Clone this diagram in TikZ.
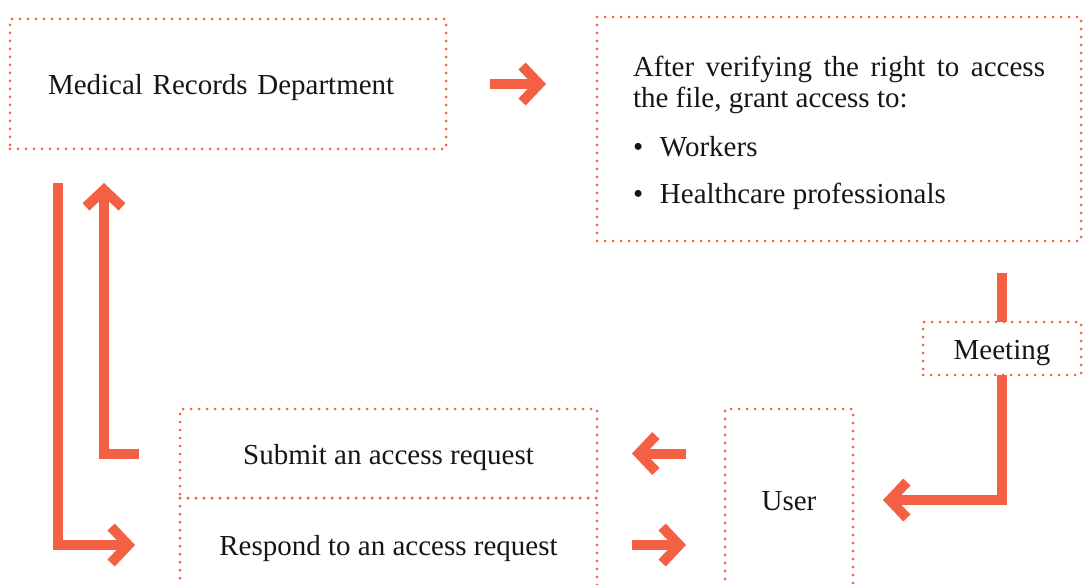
\documentclass[tikz,border=0pt]{standalone}
\usepackage{fontspec}
\setmainfont{Liberation Serif}
\usetikzlibrary{arrows.meta, positioning}
\definecolor{coral}{HTML}{F36044}
\definecolor{ink}{HTML}{161616}
\tikzset{
	dotbox/.style={draw=coral, line width=3pt, line cap=round, dash pattern=on 0pt off 8pt,
		inner sep=0pt, outer sep=0pt, text=ink, font=\fontsize{29}{31}\selectfont},
	oneline/.style={dotbox, text height=21pt, text depth=0pt},
	flow/.style={draw=coral, line width=10pt, line join=miter,
		-{Straight Barb[length=17pt,width=36pt,sharp]}},
	plainflow/.style={draw=coral, line width=10pt}
}
\begin{document}
\begin{tikzpicture}[x=1pt,y=-1pt]
	\useasboundingbox (0,0) rectangle (1091,585);

	\node[oneline, text width=360pt, inner xsep=38pt, minimum height=130pt, align=left]
		(records) at (228,84) {Medical Records Department};
	\node[dotbox, text width=412pt, inner xsep=36pt, minimum height=224pt, align=justify]
		(verify) at (839,129) {\rule{0pt}{28pt}\tolerance=9999 After verifying the right to access the file, grant access to:\par
		\vspace{18pt}\makebox[27pt][l]{\textbullet}Workers\par
		\vspace{16pt}\makebox[27pt][l]{\textbullet}Healthcare professionals};
	\node[oneline, minimum width=158pt, minimum height=53pt] (meeting) at (1002,348.5) {Meeting};

	\node[oneline, minimum width=417pt, minimum height=89pt] (submit) at (388.5,453.5) {Submit an access request};
	\node[oneline, minimum width=417pt, minimum height=94pt, below=0pt of submit] (respond) {Respond to an access request};
	\node[oneline, minimum width=128pt, minimum height=182pt] (user) at (789,500) {User};

	\coordinate (up)   at ([xshift=94pt]records.south west);
	\coordinate (down) at ([xshift=48pt]records.south west);

	\draw[flow, shorten <=44pt, shorten >=51pt] (records.east) -- (records.east -| verify.west);
	\draw[plainflow, shorten <=32pt] (meeting.north |- verify.south) -- (meeting.north);
	\draw[flow, shorten >=30pt] (meeting.south) |- (user.east);
	\draw[flow, shorten <=39pt, shorten >=35pt] (user.west |- submit.east) -- (submit.east);
	\draw[flow, shorten <=35pt, shorten >=39pt] (respond.east) -- (user.west |- respond.east);
	\draw[flow, shorten <=41pt, shorten >=34pt] (submit.west) -| (up);
	\draw[flow, shorten <=34pt, shorten >=45pt] (down) |- (respond.west);
\end{tikzpicture}
\end{document}
